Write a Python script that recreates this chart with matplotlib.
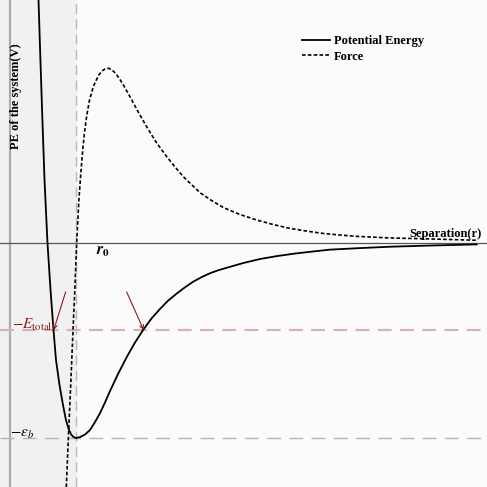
"""Potential energy and force versus separation (schematic)."""
import matplotlib
matplotlib.use("Agg")
import matplotlib.pyplot as plt

plt.rcParams["font.family"] = ["Liberation Serif", "DejaVu Serif"]
plt.rcParams["mathtext.fontset"] = "stix"
plt.rcParams["lines.scale_dashes"] = False

# separation r (units of r0) and potential energy V (units of eps_b)
PE_R = [0.432, 0.461, 0.491, 0.523, 0.568, 0.614, 0.659, 0.697, 0.750, 0.803,
        0.848, 0.894, 0.932, 0.970, 1.000, 1.061, 1.136, 1.212, 1.288, 1.364,
        1.439, 1.515, 1.636, 1.768, 1.894, 2.020, 2.144, 2.273, 2.394, 2.526,
        2.652, 2.777, 2.902, 3.030, 3.152, 3.283, 3.530, 3.788, 4.045, 4.318,
        4.576, 4.848, 5.303, 5.758, 6.364, 7.071]
PE_V = [1.246, 0.938, 0.631, 0.323, 0.000, -0.241, -0.446, -0.600, -0.728, -0.831,
        -0.908, -0.959, -0.985, -0.996, -1.000, -0.995, -0.982, -0.959, -0.918, -0.872,
        -0.818, -0.759, -0.672, -0.585, -0.510, -0.444, -0.387, -0.338, -0.296, -0.259,
        -0.227, -0.198, -0.175, -0.155, -0.140, -0.127, -0.103, -0.082, -0.067, -0.054,
        -0.044, -0.034, -0.026, -0.019, -0.013, -0.007]

FORCE_R = [0.853, 0.883, 0.923, 0.955, 0.982, 1.010, 1.044, 1.071, 1.102, 1.127,
           1.164, 1.205, 1.262, 1.341, 1.394, 1.447, 1.485, 1.530, 1.576, 1.617,
           1.667, 1.712, 1.765, 1.818, 1.939, 2.071, 2.212, 2.374, 2.500, 2.626,
           2.879, 3.053, 3.232, 3.485, 3.738, 3.985, 4.242, 4.495, 4.747, 5.000,
           5.253, 5.758, 6.364, 7.071]
FORCE_F = [-1.251, -1.010, -0.703, -0.446, -0.241, 0.000, 0.221, 0.349, 0.477, 0.563,
           0.656, 0.733, 0.802, 0.859, 0.882, 0.894, 0.896, 0.891, 0.878, 0.862,
           0.838, 0.813, 0.782, 0.750, 0.674, 0.596, 0.518, 0.443, 0.390, 0.340,
           0.258, 0.218, 0.182, 0.146, 0.118, 0.095, 0.075, 0.061, 0.049, 0.041,
           0.034, 0.026, 0.021, 0.014]

R0 = 1.0
E_TOTAL = -0.446
EPS_B = -1.0
E_TOTAL_R = [0.662, 2.025]  # where the arrows point on the curve

DARKRED = "#8b1c1c"

fig = plt.figure(figsize=(4.87, 4.87), dpi=100)
fig.patch.set_facecolor("#fbfbfb")
ax = fig.add_axes([0, 0, 1, 1])
ax.set_facecolor("#fbfbfb")
ax.set_xlim(-0.1515, 7.227)
ax.set_ylim(-1.251, 1.246)
ax.axis("off")

# repulsive region shading
ax.axvspan(-0.1515, R0, color="#f1f1f1", zorder=0)
ax.axvline(0, color="#ababab", lw=1.6, zorder=1)
ax.axhline(0, color="#555555", lw=0.9, zorder=1)
ax.axvline(R0, color="#b8b8b8", lw=1.0, dashes=(7, 4), zorder=1)
ax.axhline(E_TOTAL, color="#d9b3b3", lw=1.6, dashes=(10, 6), zorder=1)
ax.axhline(EPS_B, color="#b5b5b5", lw=1.0, dashes=(10, 6), zorder=1)

ax.plot(PE_R, PE_V, color="black", lw=1.3, label="Potential Energy", zorder=3)
ax.plot(FORCE_R, FORCE_F, color="black", lw=1.2, dashes=(2.6, 1.6),
        label="Force", zorder=3)

# arrows to the E_total crossings
for rx in E_TOTAL_R:
    start_dx = 0.181 if rx < R0 else -0.257
    ax.annotate("", xy=(rx, E_TOTAL), xytext=(rx + start_dx, -0.251),
                arrowprops=dict(arrowstyle="->", color=DARKRED, lw=0.8,
                                shrinkA=0, shrinkB=0, mutation_scale=7),
                zorder=4)

ax.text(0.03, -0.421, r"$-E_{\rm total}$", color=DARKRED, fontsize=11,
        ha="left", va="center")
ax.text(0.0, -0.979, r"$-\varepsilon_b$", color="black", fontsize=11,
        ha="left", va="center")
ax.text(1.417, -0.041, r"$\mathbfit{r}_\mathbf{0}$", fontsize=11.5,
        ha="center", va="center")
ax.text(7.152, 0.015, "Separation(r)", fontsize=9, fontweight="bold",
        ha="right", va="bottom")
ax.text(0.091, 0.754, "PE of the system(V)", fontsize=9, fontweight="bold",
        rotation=90, ha="center", va="center")

ax.legend(loc="upper left", bbox_to_anchor=(302 / 487, 1 - 35 / 487),
          frameon=False, borderpad=0, borderaxespad=0, handlelength=2.2,
          handletextpad=0.35, labelspacing=0.28,
          prop=dict(family="Liberation Serif", weight="bold", size=9))

fig.savefig("out.png", dpi=100, facecolor=fig.get_facecolor())
